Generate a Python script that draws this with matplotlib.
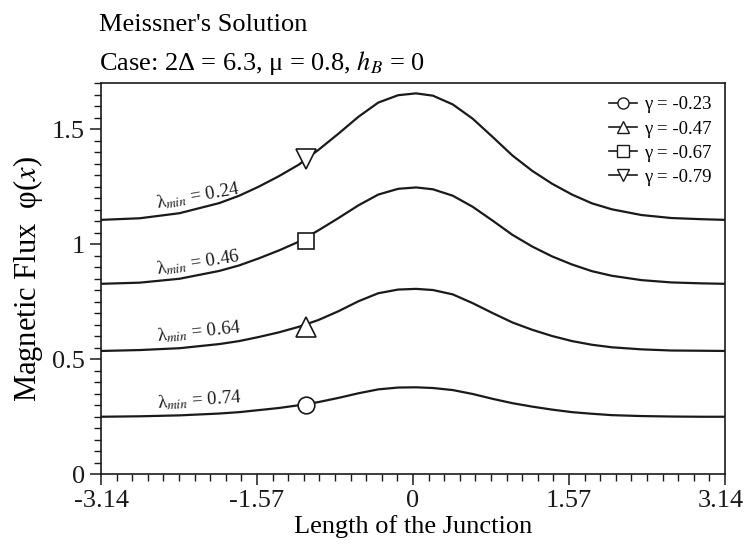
import matplotlib
matplotlib.use('Agg')
import matplotlib.pyplot as plt
from matplotlib.lines import Line2D
from matplotlib.ticker import FixedLocator, MultipleLocator
import matplotlib.transforms as mtransforms
import numpy as np

plt.rcParams['font.family'] = ['Liberation Serif', 'DejaVu Serif']
plt.rcParams['mathtext.fontset'] = 'stix'

# ---- data ----
x = [-3.14, -2.75, -2.35, -1.95, -1.75, -1.55, -1.35, -1.15, -0.95, -0.75, -0.55, -0.35,
     -0.15, 0.03, 0.2, 0.4, 0.6, 0.8, 1.0, 1.2, 1.4, 1.6, 1.8, 2.0, 2.3, 2.6, 2.9, 3.14]

phi_023 = [0.249, 0.251, 0.255, 0.263, 0.269, 0.278, 0.287, 0.299, 0.313, 0.331, 0.351, 0.368,
           0.376, 0.377, 0.374, 0.365, 0.348, 0.327, 0.308, 0.293, 0.280, 0.269, 0.262, 0.256,
           0.252, 0.250, 0.249, 0.249]
phi_047 = [0.535, 0.539, 0.547, 0.565, 0.578, 0.596, 0.616, 0.640, 0.670, 0.708, 0.751, 0.786,
           0.802, 0.805, 0.800, 0.781, 0.743, 0.700, 0.659, 0.627, 0.600, 0.578, 0.562, 0.551,
           0.542, 0.537, 0.536, 0.535]
phi_067 = [0.827, 0.832, 0.849, 0.883, 0.907, 0.938, 0.972, 1.010, 1.060, 1.113, 1.168, 1.215,
           1.240, 1.246, 1.238, 1.210, 1.162, 1.102, 1.040, 0.989, 0.946, 0.911, 0.882, 0.862,
           0.843, 0.833, 0.829, 0.827]
phi_079 = [1.105, 1.112, 1.134, 1.178, 1.210, 1.250, 1.295, 1.345, 1.410, 1.480, 1.553, 1.615,
           1.647, 1.655, 1.645, 1.607, 1.545, 1.466, 1.385, 1.318, 1.262, 1.215, 1.177, 1.151,
           1.126, 1.113, 1.108, 1.105]

series = [phi_023, phi_047, phi_067, phi_079]
gamma_labels = ['γ = -0.23', 'γ = -0.47', 'γ = -0.67', 'γ = -0.79']
markers = ['o', '^', 's', 'v']
marker_sizes = [12, 15, 11.5, 15]
marker_x = [-1.08, -1.08, -1.08, -1.08]
marker_y = [0.30, 0.64, 1.015, 1.37]

lambda_labels = ['0.74', '0.64', '0.46', '0.24']
lambda_x = [-2.57, -2.57, -2.57, -2.57]
lambda_y = [0.285, 0.576, 0.870, 1.155]
lambda_rot = [4, 6, 9, 10]

xticks = [-3.14, -1.57, 0, 1.57, 3.14]
xticklabels = ['-3.14', '-1.57', '0', '1.57', '3.14']
yticks = [0, 0.5, 1, 1.5]
yticklabels = ['0', '0.5', '1', '1.5']

# ---- figure ----
ink = '#1a1a1a'
fig = plt.figure(figsize=(7.44, 5.48), dpi=100)
ax = fig.add_axes([0.1358, 0.135, 0.8387, 0.7135])

handles = []
for ys, m, ms, mx, my, lab in zip(series, markers, marker_sizes, marker_x, marker_y,
                                  gamma_labels):
    ax.plot(x, ys, color=ink, lw=1.6, zorder=2, solid_joinstyle='round')
    ax.plot([mx], [my], linestyle='none', marker=m, ms=ms, mfc='white', mec=ink,
            mew=1.2, zorder=3)
    handles.append(Line2D([], [], color=ink, lw=1.2, marker=m, ms=8, mfc='white',
                          mec=ink, mew=1.0, label=lab))

for lab, lx, ly, rot in zip(lambda_labels, lambda_x, lambda_y, lambda_rot):
    ax.text(lx, ly, 'λ$_{min}$ = ' + lab, fontsize=13.5, rotation=rot,
            rotation_mode='anchor', ha='left', va='baseline', color=ink)

ax.set_xlim(-3.14, 3.14)
ax.set_ylim(0, 1.7)
ax.xaxis.set_major_locator(FixedLocator(xticks))
ax.set_xticklabels(xticklabels)
ax.xaxis.set_minor_locator(FixedLocator(np.linspace(-3.14, 3.14, 41)))
ax.yaxis.set_major_locator(FixedLocator(yticks))
ax.set_yticklabels(yticklabels)
ax.yaxis.set_minor_locator(MultipleLocator(0.05))
ax.tick_params(which='both', direction='out', top=False, right=False, labelsize=19,
               colors=ink)
ax.tick_params(which='major', length=8, width=1.1)
ax.tick_params(which='minor', length=5, width=1.0)
for s in ax.spines.values():
    s.set_linewidth(1.2)
    s.set_color(ink)

# keep the last x tick label inside the canvas
last = ax.get_xticklabels()[-1]
last.set_transform(last.get_transform() +
                   mtransforms.ScaledTranslation(-4 / 100, 0, fig.dpi_scale_trans))

ax.set_xlabel('Length of the Junction', fontsize=19, labelpad=2)
ax.set_ylabel('Magnetic Flux  φ($x$)', fontsize=22, labelpad=5)

leg = ax.legend(handles=handles, loc='upper right', frameon=False, fontsize=13.5,
                handlelength=1.5, labelspacing=0.38, handletextpad=0.4,
                borderaxespad=0.5, borderpad=0.2)

fig.text(0.133, 0.955, "Meissner's Solution", fontsize=19, ha='left', va='center')
fig.text(0.133, 0.885, 'Case: 2Δ = 6.3, μ = 0.8, $h_B$ = 0', fontsize=19, ha='left',
         va='center')

fig.savefig('out.png', dpi=100)
